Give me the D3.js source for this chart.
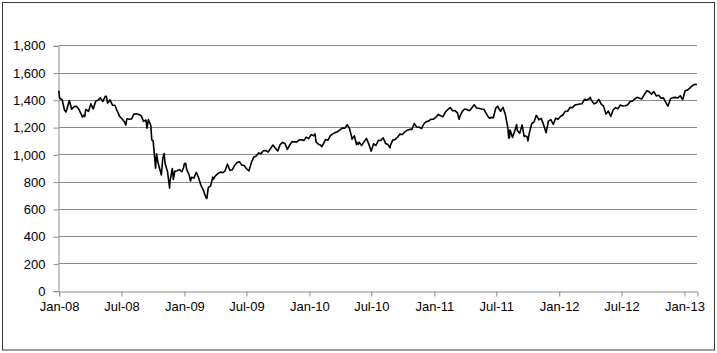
<!DOCTYPE html>
<html>
<head>
<meta charset="utf-8">
<script src="https://cdn.jsdelivr.net/npm/d3@7"></script>
<style>
  body { margin: 0; background: #fff; }
  svg { display: block; font-family: "Liberation Sans", Arial, sans-serif; }
  .tick text { fill: #000; font-size: 13px; }
</style>
</head>
<body>
<div id="chart"></div>
<script>
// S&P 500 closes, mostly weekly
const sp500 = [
["2008-01-01",1468],["2008-01-04",1411.6],["2008-01-11",1401.0],["2008-01-18",1325.2],["2008-01-22",1310.5],
["2008-01-25",1330.6],["2008-02-01",1395.4],["2008-02-08",1331.3],["2008-02-15",1350.0],["2008-02-22",1353.1],
["2008-02-29",1330.6],["2008-03-07",1293.4],["2008-03-10",1273.4],["2008-03-14",1288.1],["2008-03-17",1276.6],
["2008-03-20",1329.5],["2008-03-28",1315.2],["2008-04-04",1370.4],["2008-04-11",1332.8],["2008-04-18",1390.3],
["2008-04-25",1397.8],["2008-05-02",1413.9],["2008-05-09",1388.3],["2008-05-16",1425.4],["2008-05-19",1426.6],
["2008-05-23",1375.9],["2008-05-30",1400.4],["2008-06-06",1360.7],["2008-06-13",1360.0],["2008-06-20",1317.9],
["2008-06-27",1278.4],["2008-07-03",1262.9],["2008-07-11",1239.5],["2008-07-15",1214.9],["2008-07-18",1260.7],
["2008-07-25",1257.8],["2008-08-01",1260.3],["2008-08-08",1296.3],["2008-08-15",1298.2],["2008-08-22",1292.2],
["2008-08-29",1282.8],["2008-09-05",1242.3],["2008-09-12",1251.7],["2008-09-15",1192.7],["2008-09-19",1255.1],
["2008-09-26",1213.3],["2008-09-29",1106.4],["2008-10-03",1099.2],["2008-10-10",899.2],["2008-10-13",1003.4],
["2008-10-17",940.6],["2008-10-24",876.8],["2008-10-27",848.9],["2008-10-31",968.8],["2008-11-04",1005.8],
["2008-11-07",931.0],["2008-11-14",873.3],["2008-11-20",752.4],["2008-11-21",800.0],["2008-11-28",896.2],
["2008-12-01",816.2],["2008-12-05",876.1],["2008-12-12",879.7],["2008-12-19",887.9],["2008-12-26",872.8],
["2008-12-31",903.3],
["2009-01-02",931.8],["2009-01-06",934.7],["2009-01-09",890.4],["2009-01-16",850.1],["2009-01-20",805.2],
["2009-01-23",832.0],["2009-01-30",825.9],["2009-02-06",868.6],["2009-02-13",826.8],["2009-02-20",770.1],
["2009-02-27",735.1],["2009-03-06",683.4],["2009-03-09",676.5],["2009-03-13",756.6],["2009-03-20",768.5],
["2009-03-26",832.9],["2009-03-27",815.9],["2009-04-03",842.5],["2009-04-09",856.6],["2009-04-17",869.6],
["2009-04-24",866.2],["2009-05-01",877.5],["2009-05-08",929.2],["2009-05-15",882.9],["2009-05-22",887.0],
["2009-05-29",919.1],["2009-06-05",940.1],["2009-06-12",946.2],["2009-06-19",921.2],["2009-06-26",918.9],
["2009-07-02",896.4],["2009-07-10",879.1],["2009-07-17",940.4],["2009-07-24",979.3],["2009-07-31",987.5],
["2009-08-07",1010.5],["2009-08-14",1004.1],["2009-08-21",1026.1],["2009-08-28",1028.9],["2009-09-04",1016.4],
["2009-09-11",1042.7],["2009-09-18",1068.3],["2009-09-25",1044.4],["2009-10-02",1025.2],["2009-10-09",1071.5],
["2009-10-16",1087.7],["2009-10-23",1079.6],["2009-10-30",1036.2],["2009-11-06",1069.3],["2009-11-13",1093.5],
["2009-11-20",1091.4],["2009-11-27",1091.5],["2009-12-04",1106.0],["2009-12-11",1106.4],["2009-12-18",1102.5],
["2009-12-24",1126.5],["2009-12-31",1115.1],
["2010-01-08",1145.0],["2010-01-15",1136.0],["2010-01-19",1150.2],["2010-01-22",1091.8],["2010-01-29",1073.9],
["2010-02-05",1066.2],["2010-02-08",1056.7],["2010-02-12",1075.5],["2010-02-19",1109.2],["2010-02-26",1104.5],
["2010-03-05",1138.7],["2010-03-12",1150.0],["2010-03-19",1159.9],["2010-03-26",1166.6],["2010-04-01",1178.1],
["2010-04-09",1194.4],["2010-04-16",1192.1],["2010-04-23",1217.3],["2010-04-30",1186.7],["2010-05-06",1128.2],
["2010-05-07",1110.9],["2010-05-14",1135.7],["2010-05-20",1071.6],["2010-05-21",1087.7],["2010-05-25",1074.0],
["2010-05-28",1089.4],["2010-06-04",1064.9],["2010-06-11",1091.6],["2010-06-18",1117.5],["2010-06-25",1076.8],
["2010-07-02",1022.6],["2010-07-09",1078.0],["2010-07-16",1064.9],["2010-07-23",1102.7],["2010-07-30",1101.6],
["2010-08-06",1121.6],["2010-08-13",1079.3],["2010-08-20",1071.7],["2010-08-26",1047.2],["2010-08-27",1064.6],
["2010-09-03",1104.5],["2010-09-10",1109.6],["2010-09-17",1125.6],["2010-09-24",1148.7],["2010-10-01",1146.2],
["2010-10-08",1165.2],["2010-10-15",1176.2],["2010-10-22",1183.1],["2010-10-29",1183.3],["2010-11-05",1225.9],
["2010-11-12",1199.2],["2010-11-19",1199.7],["2010-11-26",1189.4],["2010-12-03",1224.7],["2010-12-10",1240.4],
["2010-12-17",1243.9],["2010-12-23",1256.8],["2010-12-31",1257.6],
["2011-01-07",1271.5],["2011-01-14",1293.2],["2011-01-21",1283.4],["2011-01-28",1276.3],["2011-02-04",1310.9],
["2011-02-11",1329.2],["2011-02-18",1343.0],["2011-02-25",1319.9],["2011-03-04",1321.2],["2011-03-11",1304.3],
["2011-03-16",1256.9],["2011-03-18",1279.2],["2011-03-25",1313.8],["2011-04-01",1332.4],["2011-04-08",1328.2],
["2011-04-15",1319.7],["2011-04-21",1337.4],["2011-04-29",1363.6],["2011-05-06",1340.2],["2011-05-13",1337.8],
["2011-05-20",1333.3],["2011-05-27",1331.1],["2011-06-03",1300.2],["2011-06-10",1271.0],["2011-06-15",1265.4],
["2011-06-17",1271.5],["2011-06-24",1268.5],["2011-07-01",1339.7],["2011-07-07",1353.2],["2011-07-08",1343.8],
["2011-07-15",1316.1],["2011-07-22",1345.0],["2011-07-29",1292.3],["2011-08-05",1199.4],["2011-08-08",1119.5],
["2011-08-09",1172.5],["2011-08-10",1120.8],["2011-08-12",1178.8],["2011-08-19",1123.5],["2011-08-26",1176.8],
["2011-08-31",1218.9],["2011-09-02",1174.0],["2011-09-09",1154.2],["2011-09-16",1216.0],["2011-09-22",1129.6],
["2011-09-23",1136.4],["2011-09-30",1131.4],["2011-10-03",1099.2],["2011-10-07",1155.5],["2011-10-14",1224.6],
["2011-10-21",1238.3],["2011-10-27",1284.6],["2011-10-28",1285.1],["2011-11-04",1253.2],["2011-11-11",1263.9],
["2011-11-18",1215.7],["2011-11-25",1158.7],["2011-12-02",1244.3],["2011-12-09",1255.2],["2011-12-16",1219.7],
["2011-12-23",1265.3],["2011-12-30",1257.6],
["2012-01-06",1277.8],["2012-01-13",1289.1],["2012-01-20",1315.4],["2012-01-27",1316.3],["2012-02-03",1344.9],
["2012-02-10",1342.6],["2012-02-17",1361.2],["2012-02-24",1365.7],["2012-03-02",1369.6],["2012-03-09",1370.9],
["2012-03-16",1404.2],["2012-03-23",1397.1],["2012-03-30",1408.5],["2012-04-02",1419.0],["2012-04-05",1398.1],
["2012-04-13",1370.3],["2012-04-20",1378.5],["2012-04-27",1403.4],["2012-05-04",1369.1],["2012-05-11",1353.4],
["2012-05-18",1295.2],["2012-05-25",1317.8],["2012-06-01",1278.0],["2012-06-08",1325.7],["2012-06-15",1342.8],
["2012-06-22",1335.0],["2012-06-29",1362.2],["2012-07-06",1354.7],["2012-07-13",1356.8],["2012-07-20",1362.7],
["2012-07-27",1386.0],["2012-08-03",1391.0],["2012-08-10",1405.9],["2012-08-17",1418.2],["2012-08-24",1411.1],
["2012-08-31",1406.6],["2012-09-07",1437.9],["2012-09-14",1465.8],["2012-09-21",1460.2],["2012-09-28",1440.7],
["2012-10-05",1460.9],["2012-10-12",1428.6],["2012-10-19",1433.2],["2012-10-26",1411.9],["2012-11-02",1414.2],
["2012-11-09",1379.9],["2012-11-15",1353.3],["2012-11-16",1359.9],["2012-11-23",1409.2],["2012-11-30",1416.2],
["2012-12-07",1418.1],["2012-12-14",1413.6],["2012-12-21",1430.2],["2012-12-28",1402.4],["2012-12-31",1426.2],
["2013-01-04",1466.5],["2013-01-11",1472.1],["2013-01-18",1486.0],["2013-01-25",1503.0],["2013-02-01",1513.2],
["2013-02-08",1513.0]
]

const yTicks = [0, 200, 400, 600, 800, 1000, 1200, 1400, 1600, 1800]
const xTicks = ["2008-01-01","2008-07-01","2009-01-01","2009-07-01","2010-01-01","2010-07-01",
  "2011-01-01","2011-07-01","2012-01-01","2012-07-01","2013-01-01"]
const xDomain = ["2008-01-01","2013-02-08"]

const parse = d3.utcParse('%Y-%m-%d')
const data = sp500.map(d => ({date: parse(d[0]), value: d[1]}))

const width = 717, height = 353
const margin = {top: 45.3, right: 20, bottom: 62.3, left: 58.7}

const svg = d3.select('#chart')
.append('svg')
.attr('width', width)
.attr('height', height)

// outer frame
svg.append('rect')
.attr('x', 2.5).attr('y', 2.5)
.attr('width', 712).attr('height', 347.5)
.attr('fill', 'none')
.attr('stroke', '#3a3a3a')
.attr('stroke-width', 1)

let x = d3.scaleUtc()
.domain(xDomain.map(parse))
.range([margin.left, width - margin.right])

let y = d3.scaleLinear()
.domain([0, 1800])
.range([height - margin.bottom, margin.top])

// gridlines
svg.append('g')
.selectAll('line')
.data(yTicks.slice(1))
.enter()
.append('line')
.attr('x1', margin.left)
.attr('x2', width - margin.right)
.attr('y1', d => Math.round(y(d)) + 0.5)
.attr('y2', d => Math.round(y(d)) + 0.5)
.attr('stroke', '#8c8c8c')
.attr('stroke-width', 1)

const yAxis = svg.append('g')
.attr('transform', `translate(${Math.round(margin.left) - 0.5},0.5)`)
.call(
  d3.axisLeft(y)
  .tickValues(yTicks)
  .tickFormat(d3.format(','))
  .tickSize(5)
  .tickPadding(8)
)

const xAxis = svg.append('g')
.attr('transform', `translate(0.5,${Math.round(y(0)) + 0.5})`)
.call(
  d3.axisBottom(x)
  .tickValues(xTicks.map(parse))
  .tickFormat(d3.utcFormat('%b-%y'))
  .tickSize(5)
  .tickPadding(5)
)

svg.selectAll('.domain, .tick line')
.attr('stroke', '#8c8c8c')

yAxis.selectAll('.tick text').attr('font-family', null).attr('font-size', null)
xAxis.selectAll('.tick text').attr('font-family', null).attr('font-size', null)

const line = d3.line()
.x(d => x(d.date))
.y(d => y(d.value))

svg.append('path')
.datum(data)
.attr('d', line)
.attr('fill', 'none')
.attr('stroke', '#000')
.attr('stroke-width', 1.6)
.attr('stroke-linejoin', 'round')
</script>
</body>
</html>
